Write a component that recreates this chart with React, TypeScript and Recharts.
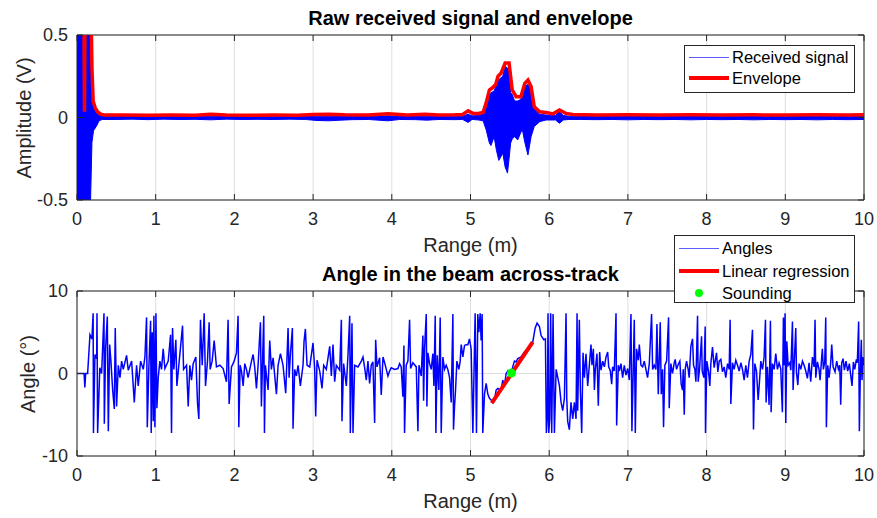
import {
  Area,
  CartesianGrid,
  ComposedChart,
  Line,
  ReferenceArea,
  Scatter,
  XAxis,
  YAxis,
} from "recharts";

// ---- top panel: received signal (min/max band) and envelope ----
// [range m, min V, max V]
const rawSignal: [number, number, number][] = [
  [0, -0.9, 0.9], [0.165, -0.9, 0.9], [0.17, -0.55, 0.55], [0.19, -0.15, 0.15],
  [0.21, -0.08, 0.06], [0.25, -0.05, 0.03], [0.28, -0.02, 0.012], [0.32, -0.012, 0.008],
  [0.5, -0.012, 0.006], [0.7, -0.01, 0.006], [0.9, -0.013, 0.006], [1.1, -0.01, 0.005],
  [1.3, -0.012, 0.006], [1.5, -0.011, 0.006], [1.7, -0.014, 0.008], [1.9, -0.01, 0.005],
  [2.1, -0.012, 0.006], [2.3, -0.011, 0.006], [2.5, -0.012, 0.005], [2.7, -0.01, 0.006],
  [2.9, -0.012, 0.006], [3.05, -0.018, 0.008], [3.2, -0.02, 0.008], [3.35, -0.016, 0.007],
  [3.5, -0.013, 0.006], [3.7, -0.012, 0.006], [3.95, -0.02, 0.01], [4.1, -0.012, 0.006],
  [4.3, -0.013, 0.006], [4.45, -0.016, 0.008], [4.6, -0.012, 0.006], [4.8, -0.013, 0.008],
  [4.9, -0.012, 0.008], [4.97, -0.03, 0.02], [5.02, -0.012, 0.01], [5.1, -0.015, 0.012],
  [5.16, -0.02, 0.02], [5.2, -0.076, 0.08], [5.24, -0.155, 0.14], [5.26, -0.17, 0.15],
  [5.3, -0.116, 0.16], [5.33, -0.2, 0.2], [5.36, -0.26, 0.23], [5.41, -0.216, 0.25],
  [5.44, -0.3, 0.31], [5.47, -0.337, 0.3], [5.49, -0.25, 0.28], [5.51, -0.155, 0.15],
  [5.53, -0.13, 0.14], [5.56, -0.116, 0.1], [5.6, -0.136, 0.1], [5.64, -0.09, 0.11],
  [5.66, -0.076, 0.15], [5.69, -0.15, 0.19], [5.73, -0.227, 0.2], [5.77, -0.116, 0.16],
  [5.81, -0.055, 0.05], [5.88, -0.025, 0.02], [5.96, -0.015, 0.015], [6.08, -0.015, 0.012],
  [6.13, -0.035, 0.035], [6.18, -0.015, 0.012], [6.25, -0.012, 0.008], [6.4, -0.012, 0.006],
  [6.6, -0.013, 0.006], [6.8, -0.012, 0.006], [7.0, -0.014, 0.006], [7.2, -0.012, 0.006],
  [7.4, -0.013, 0.007], [7.6, -0.012, 0.006], [7.8, -0.014, 0.006], [8.0, -0.012, 0.006],
  [8.2, -0.013, 0.006], [8.4, -0.012, 0.007], [8.6, -0.014, 0.006], [8.8, -0.012, 0.006],
  [9.0, -0.013, 0.006], [9.2, -0.012, 0.006], [9.4, -0.014, 0.007], [9.6, -0.012, 0.006],
  [9.8, -0.013, 0.006], [10, -0.012, 0.006],
];

// [range m, envelope V]
const envelope: [number, number][] = [
  [0, 0.9], [0.085, 0.9], [0.095, 0.035], [0.105, 0.9], [0.17, 0.9], [0.19, 0.3],
  [0.205, 0.1], [0.23, 0.06], [0.26, 0.035], [0.3, 0.02], [0.35, 0.015], [0.6, 0.015],
  [0.9, 0.014], [1.2, 0.015], [1.5, 0.014], [1.7, 0.02], [1.9, 0.015], [2.2, 0.014],
  [2.5, 0.015], [2.8, 0.014], [3.0, 0.018], [3.2, 0.019], [3.4, 0.016], [3.7, 0.015],
  [3.95, 0.022], [4.2, 0.015], [4.42, 0.02], [4.6, 0.015], [4.8, 0.016], [4.9, 0.018],
  [4.97, 0.04], [5.03, 0.025], [5.1, 0.025], [5.16, 0.03], [5.2, 0.09], [5.24, 0.167],
  [5.28, 0.18], [5.32, 0.2], [5.35, 0.25], [5.39, 0.27], [5.44, 0.33], [5.49, 0.33],
  [5.53, 0.167], [5.58, 0.126], [5.64, 0.126], [5.69, 0.207], [5.73, 0.227], [5.77, 0.187],
  [5.81, 0.065], [5.88, 0.035], [5.96, 0.03], [6.05, 0.022], [6.13, 0.045], [6.21, 0.025],
  [6.3, 0.018], [6.6, 0.015], [7.0, 0.016], [7.4, 0.015], [7.8, 0.016], [8.2, 0.015],
  [8.6, 0.016], [9.0, 0.015], [9.4, 0.016], [9.8, 0.015], [10, 0.016],
];

// ---- bottom panel: angle in beam, [range m, angle deg] ----
const anglesA: [number, number][] = [
  [0, 0], [0.09, 0], [0.1, -1.7], [0.11, 0], [0.135, 0], [0.165, 4.7], [0.19, 4.2],
  [0.205, 7.3], [0.209, -7.2], [0.228, 2.3], [0.25, 1.8], [0.254, 7.3], [0.262, -7.2],
  [0.29, 0.7], [0.313, 0], [0.343, 7.3], [0.347, -6.1], [0.364, 3.1], [0.385, 6.9],
  [0.398, -7.0], [0.415, 3.5], [0.431, 1.5], [0.453, -2], [0.474, -4.3], [0.486, 5.5],
  [0.503, -4], [0.525, 1], [0.546, -0.5], [0.567, 1.5], [0.588, 0.5], [0.63, 2.2],
  [0.651, 0.4], [0.694, 1.5], [0.728, -3.5], [0.757, 1], [0.778, -1.5], [0.808, 1.5],
  [0.842, 0.5], [0.863, 2], [0.884, 6.8], [0.893, -6.5], [0.914, 1], [0.935, 6.4],
  [0.943, -7.2], [0.956, 5], [0.969, -5.8], [0.977, 7], [0.99, -6.5], [1.003, 7.3],
  [1.015, -4.2], [1.032, -0.5], [1.053, 1.5], [1.074, 0.5], [1.095, 3], [1.117, 0.6],
  [1.159, 1.5], [1.189, 4.7], [1.201, -7.2], [1.214, 5.5], [1.231, 0.5], [1.256, 4.1],
  [1.269, -1.5], [1.294, 1], [1.341, 5.8], [1.354, 0.5], [1.392, 1], [1.413, -4],
  [1.434, 1], [1.455, -0.8], [1.476, 1.2], [1.51, 2], [1.531, -3.5], [1.548, -5.5],
  [1.569, 6.5], [1.591, 1], [1.616, 7.3], [1.633, -1.5], [1.658, 1.5], [1.679, 6.2],
  [1.692, 0.5], [1.717, 1.5], [1.743, 4], [1.772, 0.8], [1.815, 1], [1.857, 0.6],
  [1.899, -1], [1.92, 6.5], [1.933, -3.7], [1.963, 0.8], [1.997, 1.5], [2.026, 2.5],
  [2.047, 7], [2.056, -6.5], [2.073, 1], [2.09, 0.3], [2.111, -1.5], [2.132, 1.2],
  [2.153, 0.5], [2.174, -0.5], [2.217, 1.5], [2.238, 2.3], [2.259, 0.7], [2.28, -1.8],
  [2.301, 1], [2.331, 6.2], [2.343, -4], [2.373, 7], [2.382, -7.2], [2.394, 1],
  [2.428, -2], [2.449, 4],
];

const anglesB: [number, number][] = [
  [2.47, 0.5], [2.492, 1.9], [2.534, -2.5], [2.555, 1], [2.585, 2.4], [2.618, 1],
  [2.652, -2.4], [2.682, 5.5], [2.695, -0.5], [2.712, 2.4], [2.737, 5.5], [2.745, -6.7],
  [2.766, 0.5], [2.788, -0.3], [2.809, 1], [2.838, -1.5], [2.872, 1], [2.885, 3.9],
  [2.902, 5.4], [2.923, 1], [2.957, 0.8], [2.999, 3.7], [3.02, 0.6], [3.033, -5.2],
  [3.05, 1.6], [3.084, 0.3], [3.113, -1.8], [3.135, 1], [3.168, 0.5], [3.211, 3.3],
  [3.232, -0.3], [3.253, 3.5], [3.274, -1], [3.295, 1], [3.338, 0.4], [3.359, 6.5],
  [3.367, -5.8], [3.388, 1.2], [3.422, -1.5], [3.443, 2.2], [3.465, 7.0], [3.473, -7.2],
  [3.494, 6.1], [3.507, -7.2], [3.528, 1], [3.57, 0.8], [3.613, 1.5], [3.634, 2],
  [3.655, 0.7], [3.676, -0.8], [3.697, 1.5], [3.718, -1.2], [3.739, 1], [3.76, 1.4],
  [3.782, -6], [3.795, 4.1], [3.812, 0.8], [3.845, 1.9], [3.866, -2.6], [3.888, 2],
  [3.909, 1.3], [3.93, 0.5], [3.951, -0.3], [3.972, 0.3], [3.993, 0.7], [4.036, 0.5],
  [4.078, 0.6], [4.099, 1.2], [4.12, 0.8], [4.141, -2.8], [4.154, 3.4], [4.162, -7.2],
  [4.183, 1], [4.205, 1.5], [4.226, 6.5], [4.239, 0.6], [4.268, 1.3], [4.311, 0.8],
  [4.332, -7.0], [4.345, 1], [4.374, -0.3], [4.395, 4.6], [4.404, -3.3], [4.416, 3],
  [4.438, 7.2], [4.446, -4], [4.459, 2.5], [4.48, 1.2], [4.501, 0.5], [4.522, 2.4],
  [4.535, -1.5], [4.552, 7], [4.56, -7.2], [4.577, 2.2], [4.598, -2], [4.615, 6.8],
  [4.628, -7.2], [4.649, 2], [4.67, 0.5], [4.691, 1], [4.712, 0.5], [4.734, -0.5],
  [4.755, -3.5], [4.776, 7.2], [4.784, -6.8], [4.797, -4], [4.81, -2], [4.827, 1.5],
  [4.852, 0.5], [4.869, 1.5], [4.882, 3.5], [4.903, 2], [4.924, 3.4],
];

const anglesC: [number, number][] = [
  [4.945, 3.5], [4.966, 3.5], [4.987, 4.2], [5.008, 3], [5.03, -7.2], [5.059, 7.3],
  [5.076, -7.2], [5.093, 7.2], [5.106, 5], [5.123, 7.3], [5.135, 4], [5.148, 7.2],
  [5.156, -7.2], [5.178, -2.5], [5.199, -1.2], [5.22, -2.5], [5.241, -3], [5.262, -3.2],
  [5.283, -3.5], [5.305, -3.2], [5.326, -2], [5.347, -1.8], [5.389, -2], [5.41, -0.8],
  [5.431, -1.5], [5.453, 0], [5.474, 0.3], [5.495, -0.5], [5.516, 0], [5.537, 0.8],
  [5.558, 1.5], [5.579, 1.4], [5.601, 1.8], [5.643, 2], [5.685, 2.6], [5.749, 3.2],
  [5.791, 3.8], [5.821, 5.5], [5.846, 6.1], [5.876, 5.7], [5.897, 4.6], [5.931, 4.1],
  [5.952, 4.2], [5.964, -7.2], [5.977, -5], [5.985, 7.3], [5.994, -7.2], [6.007, -5.5],
  [6.019, 7.3], [6.032, -7.2], [6.049, 7.2], [6.066, -7.2], [6.088, 0.5], [6.109, -0.5],
  [6.13, -1.5], [6.151, -3.5], [6.172, -4.5], [6.193, -3], [6.214, 7.3], [6.223, -3],
  [6.235, -5.8], [6.256, -6.8], [6.277, -3.5], [6.299, -5.5], [6.32, -3.5], [6.341, -5.5],
  [6.354, 7.3], [6.362, -4.5], [6.383, 6.5], [6.396, -2], [6.413, -7.2], [6.43, 2.5],
  [6.447, -0.5], [6.468, 2.4], [6.489, -1.5], [6.51, 1], [6.531, 3.5], [6.544, 1],
  [6.561, 3], [6.574, -2], [6.586, 0.5], [6.607, 2.4], [6.624, -3.9], [6.641, 2.6],
  [6.658, 0.4], [6.68, 1.5], [6.701, 0.8], [6.722, 2], [6.743, 2.6], [6.756, 0.8],
  [6.777, 0.3], [6.794, -1.3], [6.806, 0.8], [6.827, 0.3], [6.849, 7.3], [6.857, -6.3],
  [6.878, 1], [6.891, 0.3], [6.912, 1.2], [6.933, -0.5], [6.954, 1], [6.975, -0.2],
  [6.997, 0.6], [7.018, -0.8], [7.039, 7.2], [7.051, -7.0], [7.068, 0.5], [7.081, 6.5],
  [7.094, -7.2], [7.11, 3], [7.132, 1.6], [7.145, 3.5], [7.166, 1], [7.187, 0.8],
  [7.208, 1.5], [7.229, 0.5], [7.25, -0.5], [7.272, 1.2], [7.301, 7.2], [7.314, 0.5],
  [7.335, 1], [7.356, 0.5], [7.369, 6], [7.386, -2.5],
];

const anglesD: [number, number][] = [
  [7.411, 6.2], [7.424, -2.5], [7.441, 0.5], [7.453, -6.5], [7.47, 1], [7.492, 1.5],
  [7.517, 6.8], [7.525, -4.2], [7.546, 1.2], [7.567, 0], [7.589, 1.3], [7.601, 1.7],
  [7.618, 0.5], [7.639, 1.1], [7.66, 1.5], [7.677, -1.3], [7.694, -2], [7.703, 0.5],
  [7.716, -5], [7.728, 0.5], [7.745, 1.5], [7.766, 0.5], [7.779, -0.5], [7.8, 3.3],
  [7.821, 4.2], [7.834, 1], [7.851, 0.5], [7.864, -1], [7.885, 7], [7.893, -1],
  [7.91, 0.5], [7.936, 4.5], [7.944, 0.3], [7.965, -0.5], [7.982, 5.7], [7.986, -7.2],
  [8.003, 1.5], [8.025, 0.2], [8.041, -1.5], [8.054, 1.2], [8.075, 3.2], [8.096, 0.7],
  [8.126, 2.5], [8.143, 0.2], [8.16, 1.5], [8.181, 1.7], [8.202, 0.2], [8.223, 0.8],
  [8.244, -0.5], [8.266, 1.2], [8.287, 0.5], [8.299, 6.5], [8.308, -3.7], [8.329, 1.3],
  [8.35, 0.5], [8.371, 1.6], [8.393, 1], [8.414, 0.3], [8.435, 1.3], [8.456, 0.5],
  [8.477, -0.8], [8.498, 1], [8.519, -0.5], [8.541, 1.5], [8.562, 2.3], [8.583, 5.3],
  [8.596, -6.8], [8.613, 1.2], [8.634, 0.3], [8.655, -3.2], [8.668, -1.5], [8.689, 1.5],
  [8.71, 0.5], [8.731, 2], [8.748, 6.5], [8.756, -3.5], [8.773, 0.8], [8.794, -3.8],
  [8.811, 6.4], [8.82, -4.7], [8.837, 1.2], [8.858, 0.5], [8.879, 2.4], [8.9, 0.5],
  [8.921, 1.3], [8.942, 0.6], [8.963, -4.7], [8.976, 6.8], [8.989, 1], [8.997, 7.3],
  [9.006, -6], [9.019, 3.9], [9.036, 1], [9.057, 1.3], [9.07, 0.4], [9.091, 6.3],
  [9.099, -2], [9.112, 1], [9.133, 5.5], [9.142, 0.2], [9.159, -1.4], [9.176, 1.2],
  [9.197, 0.5], [9.218, 1.5], [9.239, 1], [9.26, 0.3], [9.281, -0.6], [9.302, 1.3],
  [9.323, -1], [9.345, 2], [9.366, 0.8], [9.378, 6.5], [9.387, -0.5], [9.408, 1.4],
  [9.429, 0.5], [9.442, -0.8], [9.459, 1.5], [9.471, 3], [9.484, 0.5], [9.501, 1.4],
  [9.514, 6.8], [9.522, -6.5], [9.539, 1], [9.556, -0.5], [9.577, 1.3], [9.59, 3.5],
  [9.607, 0.8], [9.632, 0.2], [9.653, 1.5], [9.675, 0.5], [9.692, 1], [9.704, -3.8],
  [9.717, 1.3], [9.734, 1.8], [9.751, 0.4], [9.771, 1.5], [9.793, 0.3], [9.814, 1.2],
  [9.835, -0.5], [9.848, -1.5], [9.865, 1.4], [9.882, 0.5], [9.903, 1.7], [9.915, 1.3],
  [9.932, 6.3], [9.941, -7], [9.954, 0.3], [9.966, 4.1], [9.975, -0.8], [9.987, 2],
  [10, 1],
];

const regression: [number, number][] = [[5.27, -3.6], [5.79, 3.8]];
const sounding: [number, number][] = [[5.52, 0.05]];

const rangeTicks = [0, 1, 2, 3, 4, 5, 6, 7, 8, 9, 10];
const ampTicks = [-0.5, 0, 0.5];
const angleTicks = [-10, 0, 10];

// layout (same inside both svgs)
const W = 877;
const H = 260;
const PL = 77;
const PR = 864;
const PT = 35;
const PB = 200;
const AXIS = "#262626";
const FONT = "'Liberation Sans', Arial, Helvetica, sans-serif";

const rawData = rawSignal.map(([x, lo, hi]) => ({x, band: [lo, hi]}));
const envData = envelope.map(([x, y]) => ({x, y}));
const angleData = [...anglesA, ...anglesB, ...anglesC, ...anglesD].map(([x, y]) => ({x, y}));
const regData = regression.map(([x, y]) => ({x, y}));
const soundData = sounding.map(([x, y]) => ({x, y}));

function XTick(props: any) {
  const {x, payload} = props;
  return (
    <g>
      <line x1={x} x2={x} y1={PB} y2={PB - 6} stroke={AXIS} />
      <line x1={x} x2={x} y1={PT} y2={PT + 6} stroke={AXIS} />
      <text x={x} y={PB + 19} dy="0.355em" textAnchor="middle" fontSize={18} fill={AXIS}>
        {payload.value}
      </text>
    </g>
  );
}

function YTick(props: any) {
  const {y, payload} = props;
  return (
    <g>
      <line x1={PL} x2={PL + 6} y1={y} y2={y} stroke={AXIS} />
      <line x1={PR} x2={PR - 6} y1={y} y2={y} stroke={AXIS} />
      <text x={PL - 9} y={y} dy="0.355em" textAnchor="end" fontSize={18} fill={AXIS}>
        {payload.value}
      </text>
    </g>
  );
}

function Label({x, y, text, bold, rotate}: {x: number; y: number; text: string; bold?: boolean; rotate?: boolean}) {
  return (
    <div
      style={{
        position: "absolute",
        left: x,
        top: y,
        transform: `translate(-50%, -50%)${rotate ? " rotate(-90deg)" : ""}`,
        fontSize: 20,
        lineHeight: 1,
        fontWeight: bold ? 700 : 400,
        color: bold ? "#000" : AXIS,
        whiteSpace: "nowrap",
      }}
    >
      {text}
    </div>
  );
}

type Entry = {label: string; kind: "line" | "thick" | "dot"; color: string};

function LegendBox({left, top, width, height, rowH, entries}: {left: number; top: number; width: number; height: number; rowH: number; entries: Entry[]}) {
  return (
    <div
      style={{
        position: "absolute",
        left,
        top,
        width,
        height,
        boxSizing: "border-box",
        border: `1px solid ${AXIS}`,
        background: "#fff",
      }}
    >
      {entries.map((e, i) => {
        const cy = Math.round(rowH / 2 + 1 + i * rowH);
        return (
          <div key={e.label}>
            {e.kind === "dot" ? (
              <div
                style={{
                  position: "absolute",
                  left: 20,
                  top: cy - 4,
                  width: 8,
                  height: 8,
                  borderRadius: 4,
                  background: e.color,
                }}
              />
            ) : (
              <div
                style={{
                  position: "absolute",
                  left: 4,
                  top: cy - (e.kind === "thick" ? 2 : 0),
                  width: 40,
                  height: e.kind === "thick" ? 4 : 1,
                  background: e.kind === "thick" ? e.color : "#5c5cff",
                }}
              />
            )}
            <div
              style={{
                position: "absolute",
                left: 47,
                top: cy,
                transform: "translateY(-50%)",
                fontSize: 16.5,
                lineHeight: 1,
                color: "#000",
                whiteSpace: "nowrap",
              }}
            >
              {e.label}
            </div>
          </div>
        );
      })}
    </div>
  );
}

export default function App() {
  return (
    <div
      style={{
        position: "absolute",
        left: 0,
        top: 0,
        width: W,
        height: 518,
        background: "#fff",
        fontFamily: FONT,
      }}
    >
      <div style={{position: "absolute", left: 0, top: 0}}>
        <ComposedChart width={W} height={H} margin={{top: PT, right: W - PR, bottom: 30, left: 0}}>
          <CartesianGrid stroke="#dedede" />
          <XAxis
            type="number"
            dataKey="x"
            domain={[0, 10]}
            ticks={rangeTicks}
            interval={0}
            allowDataOverflow
            axisLine={false}
            tickLine={false}
            height={30}
            tick={XTick}
          />
          <YAxis
            type="number"
            domain={[-0.5, 0.5]}
            ticks={ampTicks}
            interval={0}
            allowDataOverflow
            axisLine={false}
            tickLine={false}
            width={PL}
            tick={YTick}
          />
          <Area
            data={rawData}
            dataKey="band"
            type="linear"
            stroke="#0000ff"
            strokeWidth={1}
            fill="#0000ff"
            fillOpacity={1}
            dot={false}
            activeDot={false}
            isAnimationActive={false}
          />
          <Line
            data={envData}
            dataKey="y"
            type="linear"
            stroke="#ff0000"
            strokeWidth={3.5}
            dot={false}
            activeDot={false}
            isAnimationActive={false}
          />
          <ReferenceArea x1={0} x2={10} y1={-0.5} y2={0.5} fill="none" stroke={AXIS} strokeWidth={1} />
        </ComposedChart>
      </div>

      <div style={{position: "absolute", left: 0, top: 256}}>
        <ComposedChart width={W} height={H} margin={{top: PT, right: W - PR, bottom: 30, left: 0}}>
          <CartesianGrid stroke="#dedede" />
          <XAxis
            type="number"
            dataKey="x"
            domain={[0, 10]}
            ticks={rangeTicks}
            interval={0}
            allowDataOverflow
            axisLine={false}
            tickLine={false}
            height={30}
            tick={XTick}
          />
          <YAxis
            type="number"
            domain={[-10, 10]}
            ticks={angleTicks}
            interval={0}
            allowDataOverflow
            axisLine={false}
            tickLine={false}
            width={PL}
            tick={YTick}
          />
          <Line
            data={angleData}
            dataKey="y"
            type="linear"
            stroke="#0000ff"
            strokeWidth={1.5}
            dot={false}
            activeDot={false}
            isAnimationActive={false}
          />
          <Line
            data={regData}
            dataKey="y"
            type="linear"
            stroke="#ff0000"
            strokeWidth={4}
            dot={false}
            activeDot={false}
            isAnimationActive={false}
          />
          <Scatter
            data={soundData}
            dataKey="y"
            fill="#00ff00"
            isAnimationActive={false}
            shape={(p: any) => <circle cx={p.cx} cy={p.cy} r={4.5} fill="#00ff00" />}
          />
          <ReferenceArea x1={0} x2={10} y1={-10} y2={10} fill="none" stroke={AXIS} strokeWidth={1} />
        </ComposedChart>
      </div>

      <Label x={470.5} y={18} text="Raw received signal and envelope" bold />
      <Label x={470.5} y={245} text="Range (m)" />
      <Label x={24} y={117.5} text="Amplitude (V)" rotate />

      <Label x={470.5} y={274} text="Angle in the beam across-track" bold />
      <Label x={470.5} y={501} text="Range (m)" />
      <Label x={28} y={373.5} text="Angle (°)" rotate />

      <LegendBox
        left={684}
        top={45}
        width={171}
        height={48}
        rowH={20.5}
        entries={[
          {label: "Received signal", kind: "line", color: "#0000ff"},
          {label: "Envelope", kind: "thick", color: "#ff0000"},
        ]}
      />
      <LegendBox
        left={674}
        top={235}
        width={181}
        height={68}
        rowH={22.5}
        entries={[
          {label: "Angles", kind: "line", color: "#0000ff"},
          {label: "Linear regression", kind: "thick", color: "#ff0000"},
          {label: "Sounding", kind: "dot", color: "#00ff00"},
        ]}
      />
    </div>
  );
}
